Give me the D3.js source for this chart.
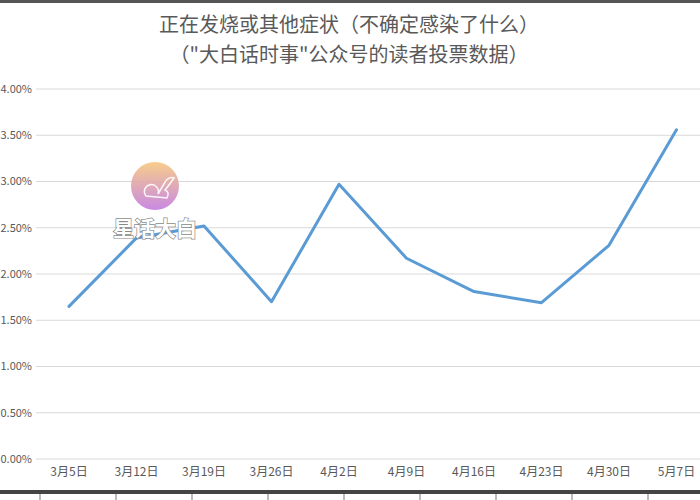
<!DOCTYPE html>
<html><head><meta charset="utf-8">
<script src="https://cdn.jsdelivr.net/npm/d3@7"></script>
<style>html,body{margin:0;padding:0;background:#fff;overflow:hidden}</style>
</head><body>
<svg id="chart" width="700" height="500"></svg>
<script>
const categories = ["3月5日","3月12日","3月19日","3月26日","4月2日","4月9日","4月16日","4月23日","4月30日","5月7日"];
const values = [1.65, 2.39, 2.52, 1.70, 2.97, 2.17, 1.81, 1.69, 2.31, 3.56];
const yTicks = [0, 0.5, 1, 1.5, 2, 2.5, 3, 3.5, 4];
const titleLines = ["正在发烧或其他症状（不确定感染了什么）", "（\"大白话时事\"公众号的读者投票数据）"];
const watermark = "星话大白";

const svg = d3.select("#chart");
const font = "'Noto Sans CJK SC','Noto Sans',sans-serif";
const txt = "#595959";

// top border artifact
svg.append("rect").attr("x",0).attr("y",0).attr("width",700).attr("height",3).attr("fill","#555");

const x = d3.scaleBand().domain(categories).range([35.25, 710.25]);
const y = d3.scaleLinear().domain([0, 4]).range([459, 89]);

// gridlines
svg.append("g").selectAll("line").data(yTicks).join("line")
  .attr("x1", 36).attr("x2", 700)
  .attr("y1", d => y(d)).attr("y2", d => y(d))
  .attr("stroke", "#d9d9d9").attr("stroke-width", 1);

// y labels
svg.append("g").selectAll("text").data(yTicks).join("text")
  .attr("x", 32).attr("y", d => y(d)).attr("dy", "0.35em")
  .attr("text-anchor", "end").attr("font-family", font).attr("font-size", 11)
  .attr("fill", txt).text(d => d.toFixed(2) + "%");

// x labels
svg.append("g").selectAll("text").data(categories).join("text")
  .attr("x", d => x(d) + x.bandwidth()/2).attr("y", 476)
  .attr("text-anchor", "middle").attr("font-family", font).attr("font-size", 12)
  .attr("fill", txt).text(d => d);

// line
const line = d3.line().x((d,i) => x(categories[i]) + x.bandwidth()/2).y(d => y(d));
svg.append("path").datum(values).attr("d", line)
  .attr("fill", "none").attr("stroke", "#5B9BD5").attr("stroke-width", 3)
  .attr("stroke-linejoin", "round").attr("stroke-linecap", "round");

// title
svg.append("g").selectAll("text").data(titleLines).join("text")
  .attr("x", 349).attr("y", (d,i) => 32 + i*30)
  .attr("text-anchor", "middle").attr("font-family", font).attr("font-size", 20)
  .attr("fill", txt).text(d => d);

// watermark
const defs = svg.append("defs");
const grad = defs.append("linearGradient").attr("id","wm").attr("x1","0").attr("y1","0").attr("x2","0").attr("y2","1");
grad.append("stop").attr("offset","0%").attr("stop-color","#f7c77e");
grad.append("stop").attr("offset","100%").attr("stop-color","#c27be0");
svg.append("circle").attr("cx",155).attr("cy",186).attr("r",24).attr("fill","url(#wm)").attr("opacity",0.9);
svg.append("path").attr("d","M146,196 a7,7 0 1,1 12,-2 l6,-10 q4,-8 10,-6 q-4,6 -9,12 q5,2 2,8 z")
  .attr("fill","none").attr("stroke","#fff").attr("stroke-width",1.5).attr("opacity",0.9);
svg.append("text").attr("x",155).attr("y",236).attr("text-anchor","middle")
  .attr("font-family",font).attr("font-size",21).attr("font-weight","bold")
  .attr("fill","#fff").attr("stroke","#8a8a8a").attr("stroke-width",1.4)
  .attr("paint-order","stroke").text(watermark);

// bottom bar artifact
svg.append("rect").attr("x",0).attr("y",490).attr("width",700).attr("height",4).attr("fill","#444");
svg.append("g").selectAll("line").data(d3.range(9)).join("line")
  .attr("x1", i => 40 + i*76).attr("x2", i => 40 + i*76)
  .attr("y1", 494).attr("y2", 500).attr("stroke","#777").attr("stroke-width",1);
</script>
</body></html>
